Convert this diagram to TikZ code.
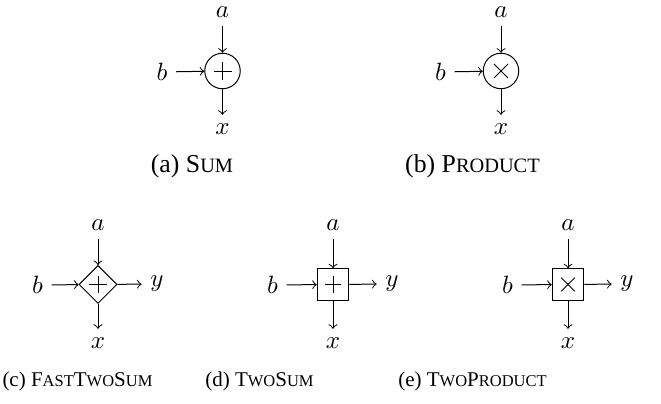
\documentclass[tikz,border=0pt]{standalone}
\usepackage{fontspec}
\setmainfont{Liberation Serif}
\usetikzlibrary{shapes.geometric}
\newcommand\capfont{\fontsize{8.4}{10}\selectfont}
\newcommand\smc[1]{{\fontsize{6.6}{8}\selectfont #1}}
\newcommand\capfontbig{\fontsize{10.3}{12}\selectfont}
\newcommand\smcbig[1]{{\fontsize{8.15}{10}\selectfont #1}}
\begin{document}
\begin{tikzpicture}[x=0.4pt,y=-0.4pt,
  lbl/.style={inner sep=3.33pt},
  op/.style={draw,circle,minimum size=14.2pt,inner sep=0pt},
  fop/.style={draw,diamond,minimum size=15.2pt,inner sep=0pt},
  bop/.style={draw,rectangle,minimum size=12.6pt,inner sep=0pt},
  arr/.style={->,line width=0.4pt},
  sym/.style={line width=0.32pt},
  captxt/.style={font=\capfont,inner sep=0pt},
  captxtbig/.style={font=\capfontbig,inner sep=0pt}]
\useasboundingbox (0,0) rectangle (661,404);
% (a) Sum
\node[op] (s) at (222.5,71) {};
\draw[sym] ([xshift=-3.6pt]s.center) -- ([xshift=3.6pt]s.center) ([yshift=-3.6pt]s.center) -- ([yshift=3.6pt]s.center);
\node[lbl] (sa) at (222.5,12) {$a$};
\node[lbl] (sb) at (162,72) {$b$};
\node[lbl] (sx) at (222.5,129) {$x$};
\draw[arr] (sa) -- (s);
\draw[arr] (sb) -- (s);
\draw[arr] (s) -- (sx);
\node[captxtbig] (capa) at (192,166) {(a) S\smcbig{UM}};
% (b) Product
\node[op] (p) at (501,71) {};
\draw[sym] ([shift={(-2.8pt,-2.8pt)}]p.center) -- ([shift={(2.8pt,2.8pt)}]p.center) ([shift={(-2.8pt,2.8pt)}]p.center) -- ([shift={(2.8pt,-2.8pt)}]p.center);
\node[lbl] (pa) at (501,12) {$a$};
\node[lbl] (pb) at (440.5,72) {$b$};
\node[lbl] (px) at (501,129) {$x$};
\draw[arr] (pa) -- (p);
\draw[arr] (pb) -- (p);
\draw[arr] (p) -- (px);
\node[captxtbig] (capb) at (472.5,166) {(b) P\smcbig{RODUCT}};
% (c) FastTwoSum
\node[fop] (f) at (98,284.5) {};
\draw[sym] ([xshift=-3.5pt]f.center) -- ([xshift=3.5pt]f.center) ([yshift=-3.5pt]f.center) -- ([yshift=3.5pt]f.center);
\node[lbl] (fa) at (98,225) {$a$};
\node[lbl] (fb) at (37.5,285) {$b$};
\node[lbl] (fy) at (157,284) {$y$};
\node[lbl] (fx) at (98,343) {$x$};
\draw[arr] (fa) -- (f);
\draw[arr] (fb) -- (f);
\draw[arr] (f) -- (fy);
\draw[arr] (f) -- (fx);
\node[captxt] (capc) at (77.5,381) {(c) F\smc{AST}T\smc{WO}S\smc{UM}};
% (d) TwoSum
\node[bop] (t) at (333,284.5) {};
\draw[sym] ([xshift=-3.3pt]t.center) -- ([xshift=3.3pt]t.center) ([yshift=-3.3pt]t.center) -- ([yshift=3.3pt]t.center);
\node[lbl] (ta) at (333,225) {$a$};
\node[lbl] (tb) at (272.5,285) {$b$};
\node[lbl] (ty) at (392,284) {$y$};
\node[lbl] (tx) at (333,343) {$x$};
\draw[arr] (ta) -- (t);
\draw[arr] (tb) -- (t);
\draw[arr] (t) -- (ty);
\draw[arr] (t) -- (tx);
\node[captxt] (capd) at (259.5,381) {(d) T\smc{WO}S\smc{UM}};
% (e) TwoProduct
\node[bop] (q) at (568,284.5) {};
\draw[sym] ([shift={(-2.7pt,-2.7pt)}]q.center) -- ([shift={(2.7pt,2.7pt)}]q.center) ([shift={(-2.7pt,2.7pt)}]q.center) -- ([shift={(2.7pt,-2.7pt)}]q.center);
\node[lbl] (qa) at (568,225) {$a$};
\node[lbl] (qb) at (507.5,285) {$b$};
\node[lbl] (qy) at (627,284) {$y$};
\node[lbl] (qx) at (568,343) {$x$};
\draw[arr] (qa) -- (q);
\draw[arr] (qb) -- (q);
\draw[arr] (q) -- (qy);
\draw[arr] (q) -- (qx);
\node[captxt] (cape) at (472.5,381) {(e) T\smc{WO}P\smc{RODUCT}};
\end{tikzpicture}
\end{document}
